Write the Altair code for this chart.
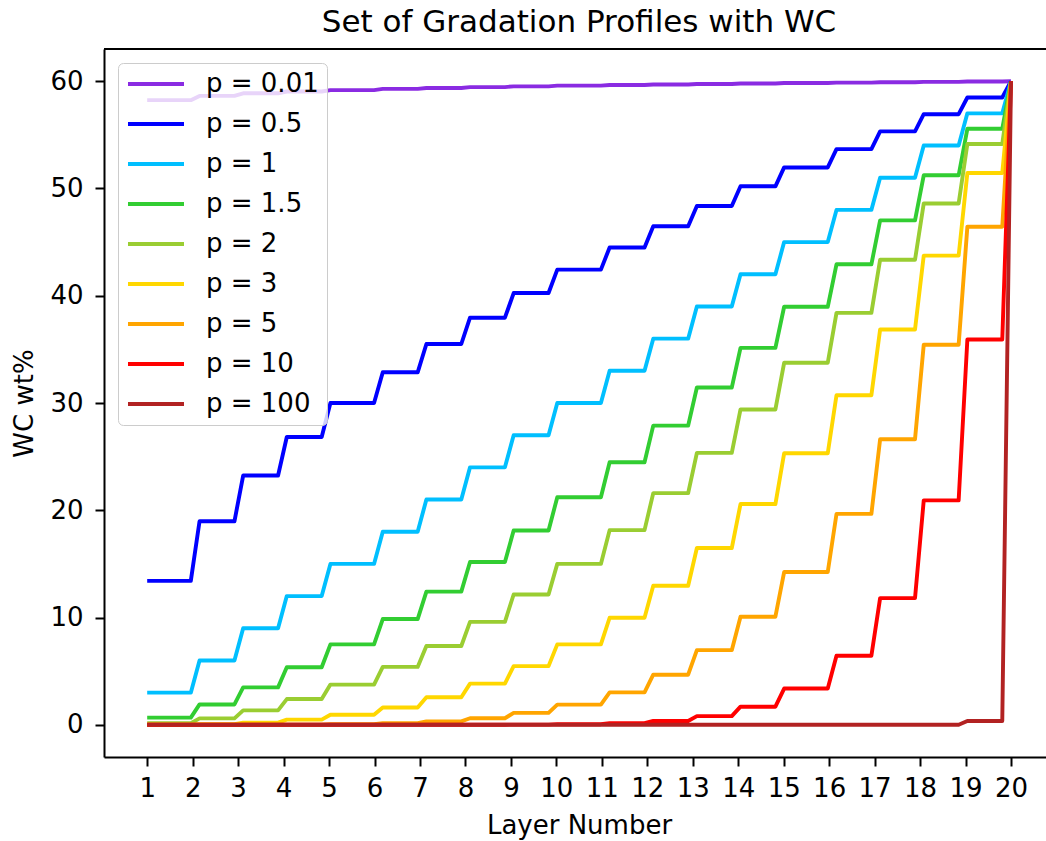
import altair as alt
import numpy as np
import pandas as pd

# Layer numbers and WC content (wt%) per layer for each gradation exponent p
layers = list(range(1, 21))
labels = ["p = 0.01", "p = 0.5", "p = 1", "p = 1.5", "p = 2",
          "p = 3", "p = 5", "p = 10", "p = 100"]
colors = ["#8A2BE2", "#0000FF", "#00BFFF", "#32CD32", "#9ACD32",
          "#FFD700", "#FFA500", "#FF0000", "#B22222"]

wc_p001 = [58.23, 58.63, 58.87, 59.04, 59.17, 59.28, 59.37, 59.45, 59.52, 59.59,
           59.64, 59.69, 59.74, 59.79, 59.83, 59.87, 59.90, 59.94, 59.97, 60.0]
wc_p05 = [13.42, 18.97, 23.24, 26.83, 30.00, 32.86, 35.50, 37.95, 40.25, 42.43,
          44.50, 46.48, 48.37, 50.20, 51.96, 53.67, 55.32, 56.92, 58.48, 60.0]
wc_p1 = [3.0, 6.0, 9.0, 12.0, 15.0, 18.0, 21.0, 24.0, 27.0, 30.0,
         33.0, 36.0, 39.0, 42.0, 45.0, 48.0, 51.0, 54.0, 57.0, 60.0]
wc_p15 = [0.67, 1.90, 3.49, 5.37, 7.50, 9.86, 12.42, 15.18, 18.11, 21.21,
          24.47, 27.89, 31.44, 35.14, 38.97, 42.93, 47.02, 51.23, 55.56, 60.0]
wc_p2 = [0.15, 0.60, 1.35, 2.40, 3.75, 5.40, 7.35, 9.60, 12.15, 15.00,
         18.15, 21.60, 25.35, 29.40, 33.75, 38.40, 43.35, 48.60, 54.15, 60.0]
wc_p3 = [0.01, 0.06, 0.20, 0.48, 0.94, 1.62, 2.57, 3.84, 5.47, 7.50,
         9.98, 12.96, 16.48, 20.58, 25.31, 30.72, 36.85, 43.74, 51.44, 60.0]
wc_p5 = [0.00, 0.00, 0.00, 0.02, 0.06, 0.15, 0.32, 0.61, 1.11, 1.88,
         3.02, 4.67, 6.96, 10.08, 14.24, 19.66, 26.62, 35.43, 46.43, 60.0]
wc_p10 = [0.00, 0.00, 0.00, 0.00, 0.00, 0.00, 0.00, 0.01, 0.02, 0.06,
          0.15, 0.36, 0.81, 1.69, 3.38, 6.44, 11.81, 20.92, 35.92, 60.0]
wc_p100 = [0.00, 0.00, 0.00, 0.00, 0.00, 0.00, 0.00, 0.00, 0.00, 0.00,
           0.00, 0.00, 0.00, 0.00, 0.00, 0.00, 0.00, 0.00, 0.36, 60.0]

series = [wc_p001, wc_p05, wc_p1, wc_p15, wc_p2, wc_p3, wc_p5, wc_p10, wc_p100]

# Profiles are sampled along the thickness; each sample takes its layer's value
x_samples = np.linspace(1, 20, 100)
rows = []
for label, vals in zip(labels, series):
    for x in x_samples:
        layer = int(np.floor(x + 1e-9))
        rows.append({"layer_pos": float(x), "wc": vals[layer - 1], "profile": label})
df = pd.DataFrame(rows)

FONT = "DejaVu Sans"

x_scale = alt.Scale(domain=[0.05, 20.77], nice=False, zero=False)
y_scale = alt.Scale(domain=[-3, 63], nice=False, zero=False)
color_scale = alt.Scale(domain=labels, range=colors)

x_axis = alt.Axis(values=layers, format="d", title="Layer Number", grid=False,
                  titleX=475, titleY=76, titleBaseline="alphabetic",
                  labelPadding=9)
y_axis = alt.Axis(values=[0, 10, 20, 30, 40, 50, 60], title="WC wt%", grid=False,
                  titleX=-80, titleY=354, titleBaseline="middle", titleAlign="center",
                  labelPadding=12)

legend = alt.Legend(title=None, orient="top-left", offset=14, padding=8,
                    symbolType="stroke", symbolSize=3136, symbolStrokeWidth=3.9,
                    clipHeight=26,
                    labelFontSize=26, labelFont=FONT, labelOffset=20,
                    labelColor="black", rowPadding=14,
                    fillColor="rgba(255,255,255,0.8)", strokeColor="#cccccc",
                    cornerRadius=5)

layers_list = []
for label in labels:
    layers_list.append(
        alt.Chart(df).transform_filter(alt.datum.profile == label)
        .mark_line(strokeWidth=3.9, strokeJoin="round")
        .encode(
            x=alt.X("layer_pos:Q", scale=x_scale, axis=x_axis),
            y=alt.Y("wc:Q", scale=y_scale, axis=y_axis),
            color=alt.Color("profile:N", scale=color_scale, legend=legend),
        )
    )

# top edge of the axes frame
top_edge = alt.Chart(df).mark_rule(color="black", strokeWidth=2).encode(
    y=alt.Y(datum=63, scale=y_scale)
)

chart = alt.layer(*layers_list, top_edge).properties(
    width=942,
    height=708,
    title=alt.TitleParams("Set of Gradation Profiles with WC", fontSize=31,
                          font=FONT, fontWeight="normal", color="black",
                          anchor="middle", dx=4, dy=31, offset=16,
                          baseline="alphabetic"),
    autosize=alt.AutoSizeParams(type="none"),
    padding={"left": 104, "top": 49, "right": 0, "bottom": 84},
).configure_view(stroke=None).configure_axis(
    labelFont=FONT, labelFontSize=26, labelColor="black",
    titleFont=FONT, titleFontSize=26, titleFontWeight="normal", titleColor="black",
    domainColor="black", domainWidth=2, tickColor="black", tickWidth=2, tickSize=9,
).configure_axisX(labelFlush=False).configure_axisY(labelFlush=False)

chart.save("out.html", embed_options={"renderer": "svg", "actions": False})
